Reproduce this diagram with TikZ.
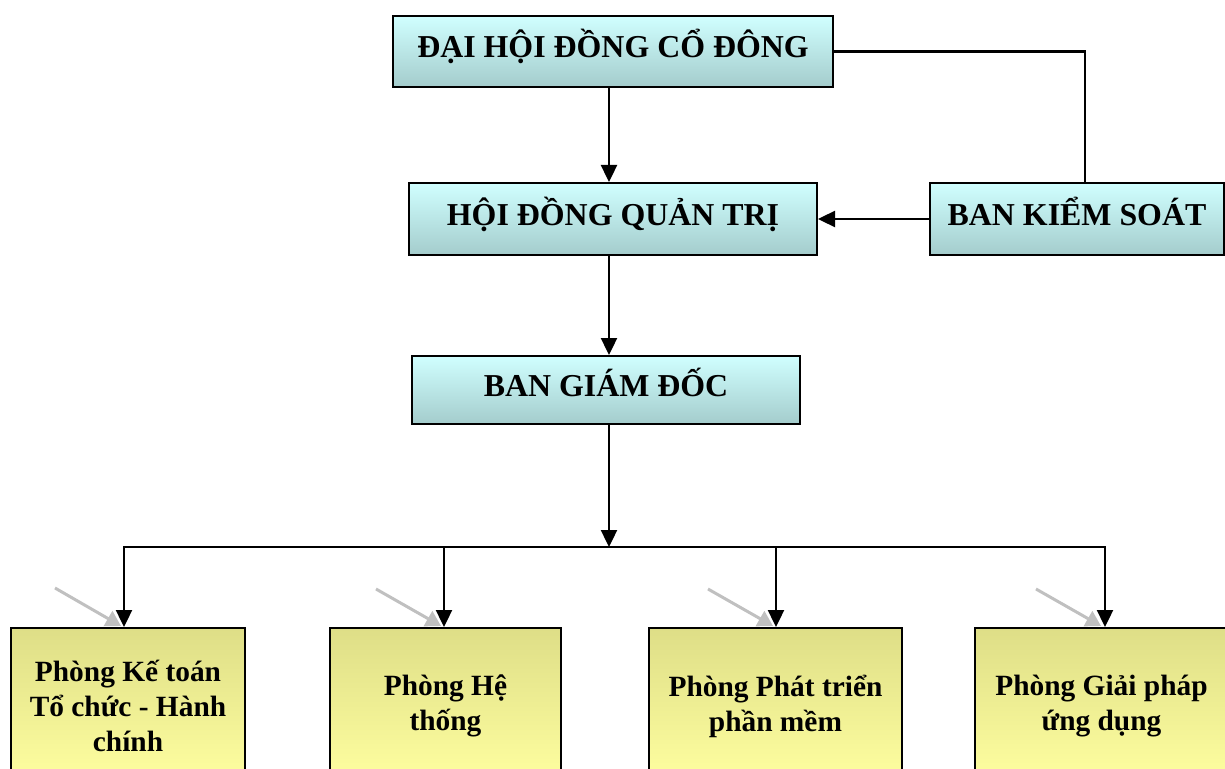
\documentclass[tikz,border=0pt]{standalone}
\usepackage{fontspec}
\setmainfont{Liberation Serif}
\usetikzlibrary{arrows.meta,calc}
\definecolor{cyanTop}{RGB}{208,255,255}
\definecolor{cyanBot}{RGB}{164,204,204}
\definecolor{ylwTop}{RGB}{222,222,135}
\definecolor{ylwBot}{RGB}{255,255,160}
\definecolor{ghost}{RGB}{192,192,192}
\tikzset{
  boardbox/.style={
    draw=black,
    line width=2bp,
    top color=cyanTop,
    bottom color=cyanBot,
    inner sep=0pt,
    text height=21bp,
    text depth=8bp,
    align=center,
    font=\fontsize{32}{38}\selectfont\bfseries
  },
  deptbox/.style={
    draw=black,
    line width=2bp,
    top color=ylwTop,
    bottom color=ylwBot,
    inner sep=0pt,
    align=center,
    font=\fontsize{29.5}{35}\selectfont\bfseries
  },
  link/.style={line width=2.4bp, draw=black},
  arr/.style={link, -{Triangle[width=16bp,length=17bp]}},
  ghostarr/.style={line width=3bp, draw=ghost, -{Triangle[width=17bp,length=15bp]}},
}

\begin{document}
\begin{tikzpicture}[x=1bp,y=-1bp]
  \path[use as bounding box, clip] (0,0) rectangle (1225,769);
  % upper levels
  \node[boardbox, minimum width=440bp, minimum height=71bp] (dhdcd) at (613,51.5) {ĐẠI HỘI ĐỒNG CỔ ĐÔNG};
  \node[boardbox, minimum width=408bp, minimum height=72bp] (hdqt) at (613,219) {HỘI ĐỒNG QUẢN TRỊ};
  \node[boardbox, minimum width=294bp, minimum height=72bp] (bks) at (1077,219) {BAN KIỂM SOÁT};
  \node[boardbox, minimum width=388bp, minimum height=68bp] (bgd) at (606,390) {BAN GIÁM ĐỐC};
  \coordinate (spine) at (609,0);
  \coordinate (ksLink) at (1085,51.5);
  \draw[arr] (dhdcd.south -| spine) -- (hdqt.north -| spine);
  \draw[arr] (hdqt.south -| spine) -- (bgd.north -| spine);
  \draw[link] (dhdcd.east |- ksLink) -- (ksLink) -- (ksLink |- bks.north);
  \draw[arr] (bks.west) -- (hdqt.east);
  % departments
  \node[deptbox, minimum width=234bp, minimum height=156bp] (p1) at (128,706) {Phòng Kế toán\\Tổ chức - Hành\\chính};
  \node[deptbox, minimum width=231bp, minimum height=156bp] (p2) at (445.5,706) {Phòng Hệ\\thống};
  \node[deptbox, minimum width=253bp, minimum height=156bp] (p3) at (775.5,706) {Phòng Phát triển\\phần mềm};
  \node[deptbox, minimum width=253bp, minimum height=156bp] (p4) at (1101.5,706) {Phòng Giải pháp\\ứng dụng};
  \coordinate (bus) at (609,547);
  \foreach \x [count=\i] in {124,444,776,1105} {
    \coordinate (d\i) at (\x,547);
  }
  \draw[arr] (bgd.south -| spine) -- (bus);
  \draw[link, line cap=rect] (d1) -- (d4);
  \foreach \i in {1,...,4} {
    \draw[arr] (d\i) -- (d\i |- p\i.north);
  }
  % grey pointers
  \foreach \sx/\sy/\ex [count=\i] in {55/588/121,376/589/441,708/589/773,1036/589/1101} {
    \coordinate (gs\i) at (\sx,\sy);
    \coordinate (ge\i) at (\ex,626);
    \draw[ghostarr] (gs\i) -- (ge\i);
  }
\end{tikzpicture}
\end{document}
